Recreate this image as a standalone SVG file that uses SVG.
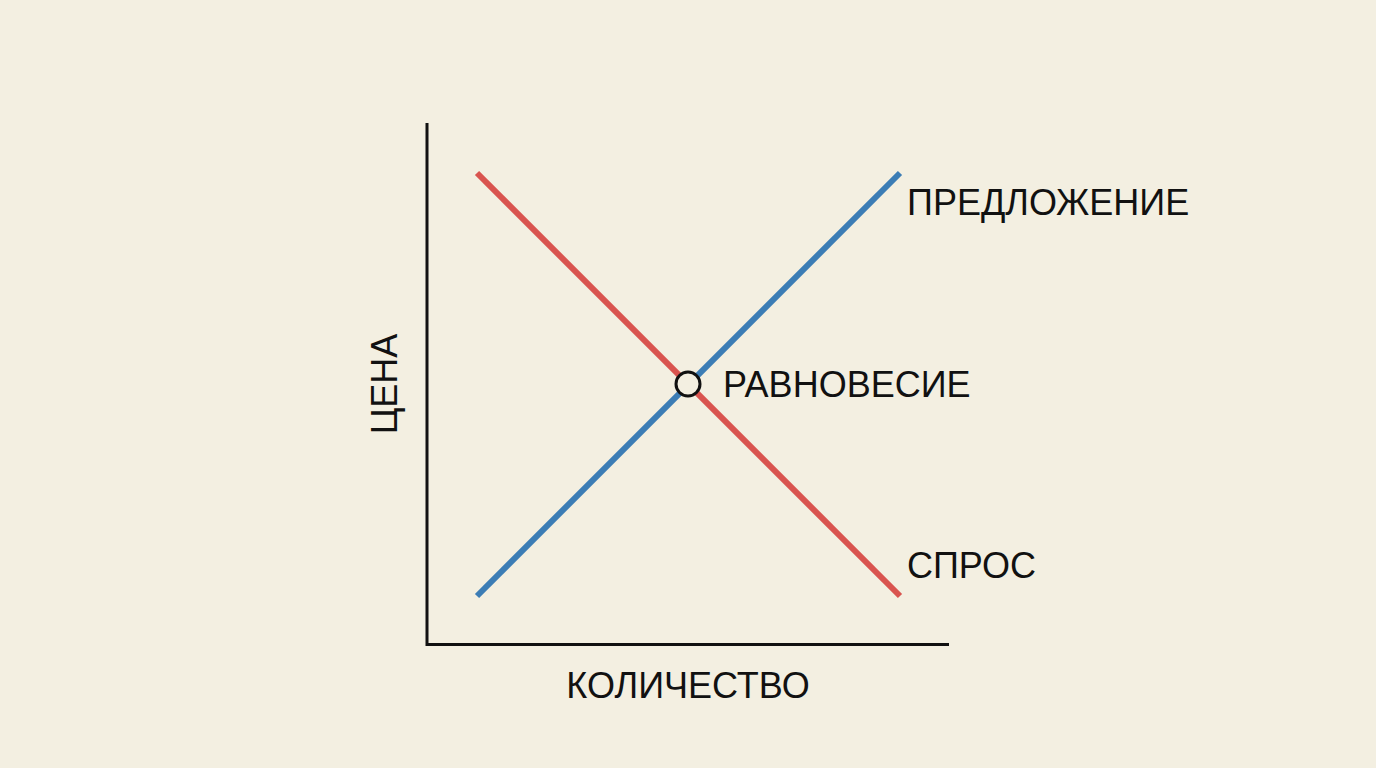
<svg xmlns="http://www.w3.org/2000/svg" width="1376" height="768" viewBox="0 0 1376 768">
<style>
.lbl{font-family:"Liberation Sans","DejaVu Sans",sans-serif;font-size:36px;fill:#111;}
.axis{stroke:#111;stroke-width:3;fill:none;}
.curve{stroke-width:6;fill:none;stroke-linecap:butt;}
</style>
<rect width="1376" height="768" fill="#f3efe1"/>
<g id="connectors">
<path class="axis" d="M427,123 V644.5 H949"/>
<line id="demand" class="curve" x1="477" y1="173" x2="900" y2="596" stroke="#d9544f"/>
<line id="supply" class="curve" x1="477" y1="596" x2="900" y2="173" stroke="#3c7db5"/>
</g>
<g id="equilibrium">
<circle cx="688" cy="384" r="12" fill="#f3efe1" stroke="#111" stroke-width="3"/>
<text class="lbl" x="723" y="397">РАВНОВЕСИЕ</text>
</g>
<g id="supply-label"><text class="lbl" x="907" y="215">ПРЕДЛОЖЕНИЕ</text></g>
<g id="demand-label"><text class="lbl" x="907" y="578">СПРОС</text></g>
<g id="x-axis-label"><text class="lbl" x="688" y="698" text-anchor="middle">КОЛИЧЕСТВО</text></g>
<g id="y-axis-label"><text class="lbl" transform="translate(397,384) rotate(-90)" text-anchor="middle">ЦЕНА</text></g>
</svg>
